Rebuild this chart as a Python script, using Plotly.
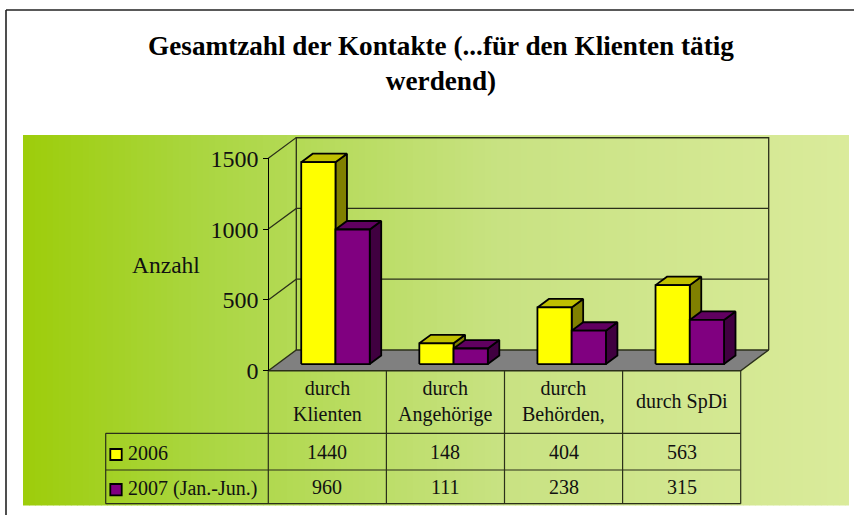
import plotly.graph_objects as go

categories = ["durch<br>Klienten", "durch<br>Angehörige", "durch<br>Behörden,", "durch SpDi"]
series_names = ["2006", "2007 (Jan.-Jun.)"]
values_2006 = [1440, 148, 404, 563]
values_2007 = [960, 111, 238, 315]
y_ticks = [0, 500, 1000, 1500]

W, H = 854, 515
X0, X1 = 268.3, 740.7      # front floor edge in pixels
Y0, Y1 = 370.7, 158.3      # value 0 and value 1500 on the front axis
SERIF = "Liberation Serif"
CW = (X1 - X0) / 4
VP = (Y0 - Y1) / 1500
DX = 28 / CW               # wall depth in category units
DY = 20.7 / VP             # wall depth in value units
LINE = "#2b2f1a"

BAR_START = 0.203
BAR_W = 0.29
BAR_D0 = 0.32
BAR_D1 = 0.73
BAR_SCALE = 0.99


def px(x):
    return x / W


def py(y):
    return 1 - y / H


def proj(x, v, d):
    return x + d * DX, v + d * DY


def poly(points, fill=None, color="black", width=1.8):
    xs, ys = zip(*(proj(*p) for p in points))
    return go.Scatter(
        x=list(xs), y=list(ys), mode="lines", hoverinfo="skip", showlegend=False,
        fill="toself" if fill else "none", fillcolor=fill,
        line=dict(color=color, width=width, shape="linear"),
    )


fig = go.Figure()

# floor and walls
fig.add_trace(poly([(0, 0, 0), (4, 0, 0), (4, 0, 1), (0, 0, 1), (0, 0, 0)], fill="#808080", color=LINE, width=1.4))
top = y_ticks[-1]
fig.add_trace(poly([(0, 0, 1), (0, top, 1), (4, top, 1), (4, 0, 1)], color=LINE, width=1.3))
for v in y_ticks[1:]:
    fig.add_trace(poly([(0, v, 0), (0, v, 1), (4, v, 1)], color=LINE, width=1.2))


def bar(cat, slot, value, front, side, topc):
    x0 = cat + BAR_START + slot * BAR_W
    x1 = x0 + BAR_W
    v = value * BAR_SCALE
    d0, d1 = BAR_D0, BAR_D1
    base = 0
    fig.add_trace(poly([(x1, base, d0), (x1, base, d1), (x1, v, d1), (x1, v, d0), (x1, base, d0)], fill=side))
    fig.add_trace(poly([(x0, v, d0), (x1, v, d0), (x1, v, d1), (x0, v, d1), (x0, v, d0)], fill=topc))
    fig.add_trace(poly([(x0, base, d0), (x1, base, d0), (x1, v, d0), (x0, v, d0), (x0, base, d0)], fill=front))


for i in range(len(categories)):
    bar(i, 0, values_2006[i], "#FFFF00", "#808000", "#C0C000")
    bar(i, 1, values_2007[i], "#800080", "#400040", "#600060")

# carries the visible value axis
fig.add_trace(go.Scatter(x=[None], y=[None], yaxis="y2", mode="lines", hoverinfo="skip", showlegend=False))

# background gradient (bands, like the original)
stops = [(23, (157, 205, 10)), (200, (170, 214, 64)), (500, (200, 226, 130)), (849, (218, 235, 155))]


def grad(x):
    for (a, ca), (b, cb) in zip(stops, stops[1:]):
        if x <= b:
            t = (x - a) / (b - a)
            return "rgb(%d,%d,%d)" % tuple(round(p + (q - p) * t) for p, q in zip(ca, cb))
    return "rgb(%d,%d,%d)" % stops[-1][1]


shapes = []
GX = 23
while GX < 849:
    shapes.append(dict(type="rect", xref="paper", yref="paper", layer="below",
                       x0=px(GX), x1=px(min(GX + 6.5, 849)), y0=py(505.5), y1=py(135),
                       fillcolor=grad(GX + 3), line=dict(width=0)))
    GX += 6

# outer chart border
for a, b, c, d in [(6, 10, 854, 10), (6, 10, 6, 515)]:
    shapes.append(dict(type="line", xref="paper", yref="paper", x0=px(a), y0=py(b), x1=px(c), y1=py(d),
                       line=dict(color="#222222", width=1.6)))

# data table grid
T_LEFT = 105.7
ROWS = [433.3, 470, 503.7]
COLS = [X0 + CW * i for i in range(5)]
for y in ROWS:
    shapes.append(dict(type="line", xref="paper", yref="paper", x0=px(T_LEFT), x1=px(X1), y0=py(y), y1=py(y),
                       line=dict(color=LINE, width=1.2)))
for x in COLS:
    shapes.append(dict(type="line", xref="paper", yref="paper", x0=px(x), x1=px(x), y0=py(Y0), y1=py(ROWS[-1]),
                       line=dict(color=LINE, width=1.2)))
shapes.append(dict(type="line", xref="paper", yref="paper", x0=px(T_LEFT), x1=px(T_LEFT), y0=py(ROWS[0]), y1=py(ROWS[-1]),
                   line=dict(color=LINE, width=1.2)))

# legend keys
for (y0, y1), c in zip([(449, 460), (484, 495.3)], ["#FFFF00", "#800080"]):
    shapes.append(dict(type="rect", xref="paper", yref="paper", x0=px(110.3), x1=px(121.7), y0=py(y0), y1=py(y1),
                       fillcolor=c, line=dict(color="black", width=1.8)))

ann = []
TF = dict(family=SERIF, size=20, color="#111111")
for i, c in enumerate(categories):
    ann.append(dict(x=i + 0.5, y=py(401), xref="x", yref="paper", text=c, showarrow=False, font=TF,
                    xanchor="center", yanchor="middle"))
    ann.append(dict(x=i + 0.5, y=py(452), xref="x", yref="paper", text=str(values_2006[i]), showarrow=False, font=TF,
                    xanchor="center", yanchor="middle"))
    ann.append(dict(x=i + 0.5, y=py(487), xref="x", yref="paper", text=str(values_2007[i]), showarrow=False, font=TF,
                    xanchor="center", yanchor="middle"))
for name, y in zip(series_names, [453, 488.5]):
    ann.append(dict(x=px(126), y=py(y), xref="paper", yref="paper", text=name, showarrow=False, font=TF,
                    xanchor="left", yanchor="middle"))
ann.append(dict(x=px(165.5), y=py(265), xref="paper", yref="paper", text="Anzahl", showarrow=False,
                font=dict(family=SERIF, size=23.5, color="#111111"), xanchor="center", yanchor="middle"))

fig.update_layout(
    width=W, height=H, autosize=False, showlegend=False,
    margin=dict(l=0, r=0, t=0, b=0, pad=0, autoexpand=False),
    paper_bgcolor="white", plot_bgcolor="rgba(0,0,0,0)",
    title=dict(text="Gesamtzahl der Kontakte (...für den Klienten tätig<br>werdend)",
               x=441 / W, xanchor="center", y=py(55), yanchor="middle",
               font=dict(family=SERIF, size=27.2, color="black", weight="bold")),
    xaxis=dict(domain=[0, 1], range=[-X0 / CW, (W - X0) / CW], showgrid=False, zeroline=False,
               showticklabels=False, ticks="", showline=False),
    yaxis=dict(domain=[0, 1], range=[(Y0 - H) / VP, Y0 / VP], showgrid=False, zeroline=False,
               showticklabels=False, ticks="", showline=False),
    yaxis2=dict(domain=[py(Y0), py(Y1)], range=[0, 1500], tickvals=y_ticks, showgrid=False, zeroline=False,
                anchor="free", position=px(X0), side="left",
                showline=True, linecolor="black", linewidth=1.2, ticks="outside", ticklen=5, tickcolor="black",
                tickwidth=1.2, tickfont=dict(family=SERIF, size=24, color="#111111")),
    shapes=shapes, annotations=ann,
)

fig.write_html("out.html", config=dict(displayModeBar=False),
               post_script="document.body.style.margin='0';document.body.style.overflow='hidden';")
